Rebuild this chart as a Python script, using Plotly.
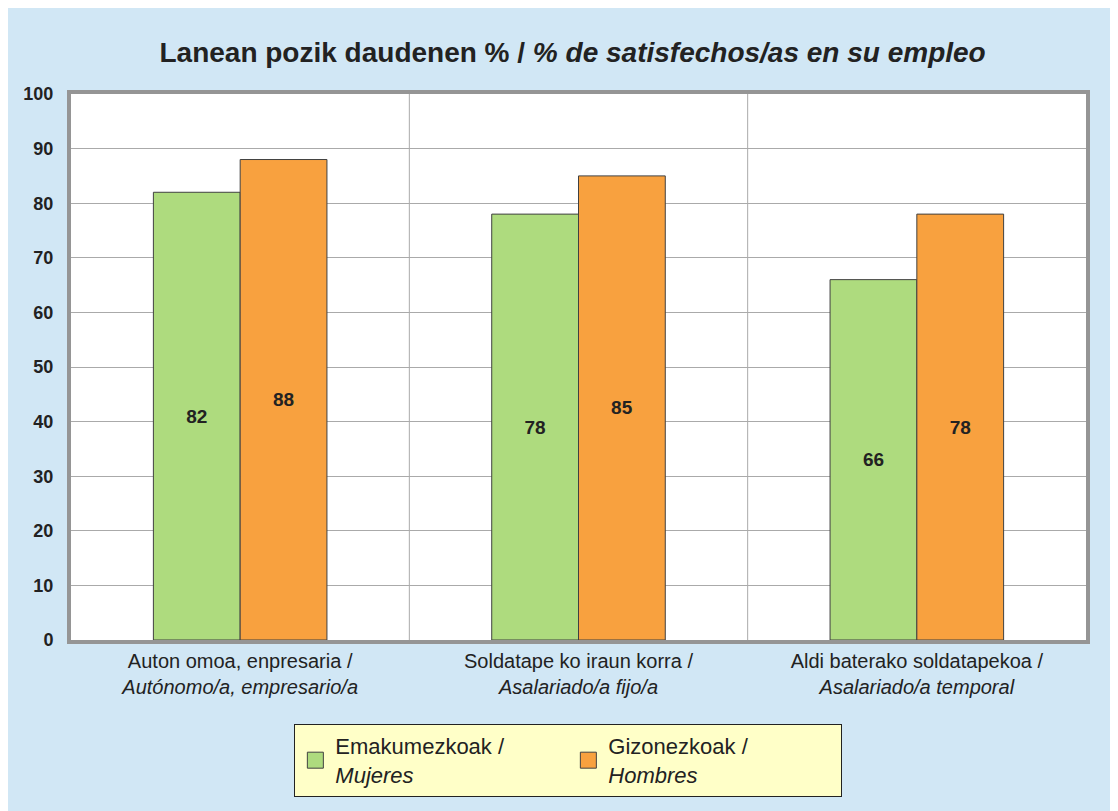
import plotly.graph_objects as go

categories = ["Auton omoa, enpresaria /<br><i>Autónomo/a, empresario/a</i>",
              "Soldatape ko iraun korra /<br><i>Asalariado/a fijo/a</i>",
              "Aldi baterako soldatapekoa /<br><i>Asalariado/a temporal</i>"]
mujeres = [82, 78, 66]
hombres = [88, 85, 78]
series_names = ["Emakumezkoak /<br><i>Mujeres</i>", "Gizonezkoak /<br><i>Hombres</i>"]
colors = ["#AEDB7E", "#F8A13F"]
yticks = [0, 10, 20, 30, 40, 50, 60, 70, 80, 90, 100]

FONT = "Liberation Sans, Arial, sans-serif"
fig = go.Figure()
for vals, col in zip([mujeres, hombres], colors):
    fig.add_bar(x=categories, y=vals, showlegend=False,
                marker=dict(color=col, line=dict(color="#404040", width=1)),
                text=vals, textposition="inside", insidetextanchor="middle",
                textfont=dict(family=FONT, size=19, color="#222222", weight="bold"),
                textangle=0)
# legend entries
for name, col in zip(series_names, colors):
    fig.add_scatter(x=[None], y=[None], mode="markers", name=name,
                    marker=dict(symbol="square", size=16, color=col,
                                line=dict(color="#404040", width=1)))

for xv in [0.5, 1.5]:
    fig.add_shape(type="line", xref="x", yref="paper", x0=xv, x1=xv, y0=0, y1=1,
                  line=dict(color="#AAAAAA", width=1), layer="below")

fig.update_layout(
    width=1118, height=811,
    paper_bgcolor="#D1E7F5", plot_bgcolor="#FFFFFF",
    margin=dict(l=63, r=40, t=86, b=179),
    barmode="group", bargap=0.487, bargroupgap=0,
    title=dict(text="<b>Lanean pozik daudenen % / <i>% de satisfechos/as en su empleo</i></b>",
               x=0.505, xanchor="center", y=0.946, yanchor="middle",
               font=dict(family=FONT, size=28, color="#222222")),
    font=dict(family=FONT, color="#222222"),
    showlegend=True,
    legend=dict(orientation="h", x=0.49, xanchor="center", y=-0.154, yanchor="top",
                bgcolor="#FFFFC8", bordercolor="#222222", borderwidth=1,
                font=dict(family=FONT, size=22, color="#222222"),
                entrywidth=228, itemsizing="trace", traceorder="normal"),
)
fig.update_xaxes(showline=True, linecolor="#959595", linewidth=4, mirror=True,
                 tickfont=dict(family=FONT, size=20, color="#222222"),
                 ticks="", showgrid=False)
fig.update_yaxes(range=[0, 100], tickvals=yticks, showline=True, linecolor="#959595",
                 linewidth=4, mirror=True, gridcolor="#AAAAAA", gridwidth=1,
                 tickfont=dict(family=FONT, size=18, color="#222222", weight="bold"),
                 ticks="", ticklabelstandoff=10, zeroline=False)
fig.write_html("out.html")
